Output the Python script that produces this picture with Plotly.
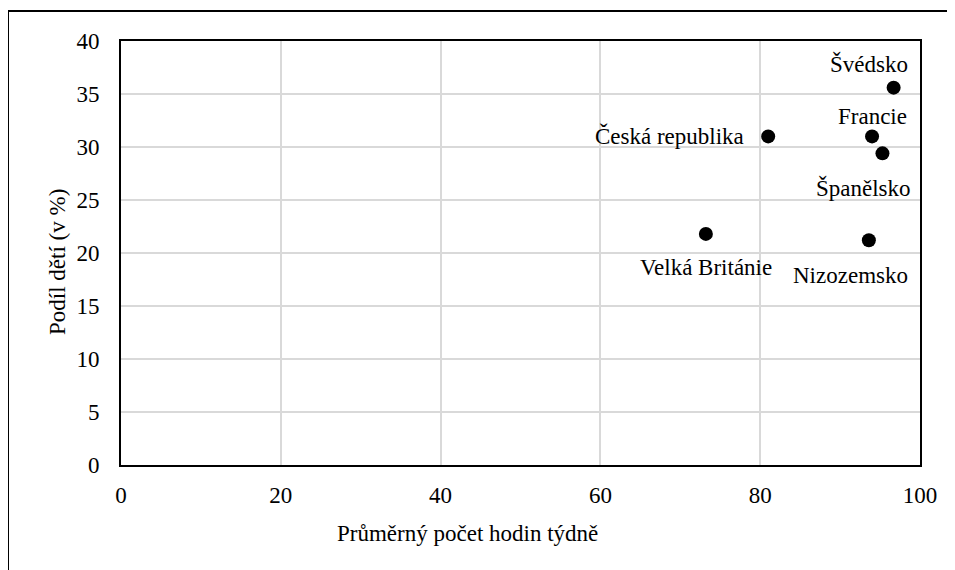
import plotly.graph_objects as go

countries = ["Švédsko", "Francie", "Česká republika", "Španělsko", "Velká Británie", "Nizozemsko"]
hours = [96.7, 94.0, 81.0, 95.3, 73.2, 93.6]
share = [35.6, 31.0, 31.0, 29.4, 21.8, 21.2]

x_ticks = [0, 20, 40, 60, 80, 100]
y_ticks = [0, 5, 10, 15, 20, 25, 30, 35, 40]

x_title = "Průměrný počet hodin týdně"
y_title = "Podíl dětí (v %)"

# label placement relative to its point: (xanchor, xshift px, yshift px)
label_pos = {
    "Švédsko": ("right", 16, 24),
    "Francie": ("center", 0, 20),
    "Česká republika": ("right", -22, 0),
    "Španělsko": ("right", 31, -35),
    "Velká Británie": ("center", 0, -34),
    "Nizozemsko": ("right", 41, -35),
}

FONT = "Liberation Serif"
FS = 23

# plot area geometry (figure px)
L, T, W, H = 113, 33, 799, 424
FIG_W, FIG_H = 955, 570


def px_to_paper_x(px):
    return (px - L) / W


def px_to_paper_y(py):
    return (T + H - py) / H


fig = go.Figure()
fig.add_trace(go.Scatter(
    x=hours, y=share, mode="markers",
    marker=dict(color="black", size=14, line=dict(width=0)),
    showlegend=False, hoverinfo="text", text=countries,
))

for c, xv, yv in zip(countries, hours, share):
    xa, xs, ys = label_pos[c]
    fig.add_annotation(x=xv, y=yv, text=c, showarrow=False,
                       xanchor=xa, yanchor="middle", xshift=xs, yshift=ys,
                       font=dict(family=FONT, size=FS, color="black"))

# axis titles as annotations (the x title sits left of centre in the original)
fig.add_annotation(xref="paper", yref="paper", x=px_to_paper_x(459), y=px_to_paper_y(525),
                   text=x_title, showarrow=False, xanchor="center", yanchor="middle",
                   font=dict(family=FONT, size=FS, color="black"))
fig.add_annotation(xref="paper", yref="paper", x=px_to_paper_x(49), y=px_to_paper_y(254),
                   text=y_title, showarrow=False, xanchor="center", yanchor="middle",
                   textangle=-90, font=dict(family=FONT, size=FS, color="black"))

fig.update_layout(
    width=FIG_W, height=FIG_H,
    margin=dict(l=L, r=FIG_W - L - W, t=T, b=FIG_H - T - H),
    plot_bgcolor="white", paper_bgcolor="white",
    font=dict(family=FONT, size=FS, color="black"),
    xaxis=dict(range=[0, 100], tickvals=x_ticks, showgrid=True,
               gridcolor="#d9d9d9", gridwidth=1.5, zeroline=False,
               showline=True, linecolor="black", linewidth=2, mirror=True,
               ticks="", ticklabelstandoff=8),
    yaxis=dict(range=[0, 40], tickvals=y_ticks, showgrid=True,
               gridcolor="#d9d9d9", gridwidth=1.5, zeroline=False,
               showline=True, linecolor="black", linewidth=2, mirror=True,
               ticks="", ticklabelstandoff=15),
)

# outer chart border (only its top and left edges fall inside the image)
fig.add_shape(type="rect", xref="paper", yref="paper",
              x0=px_to_paper_x(0), x1=1.3, y0=-0.5, y1=px_to_paper_y(3),
              line=dict(color="black", width=2), fillcolor="rgba(0,0,0,0)",
              layer="below")

fig.write_html("out.html")
